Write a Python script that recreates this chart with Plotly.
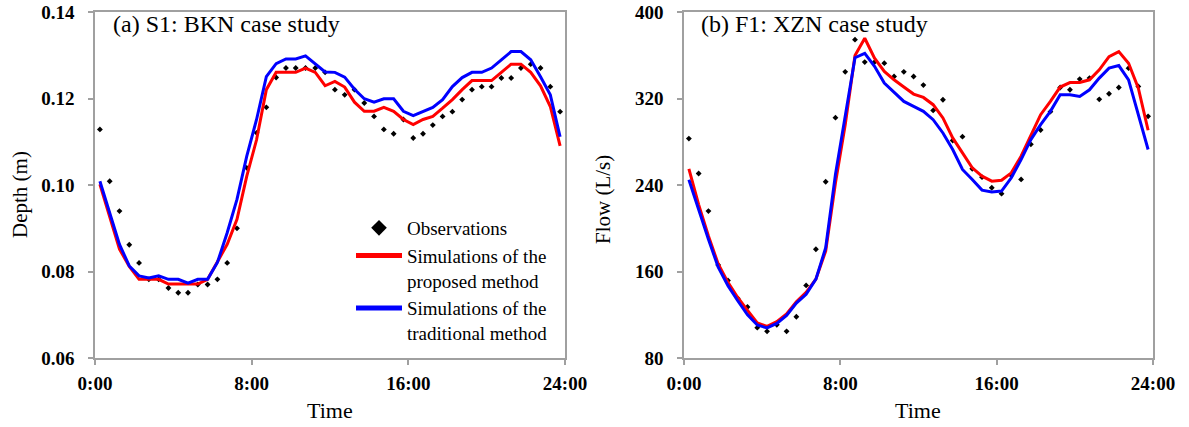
import plotly.graph_objects as go

# ---- data ----
hours = [0.25, 0.75, 1.25, 1.75, 2.25, 2.75, 3.25, 3.75, 4.25, 4.75, 5.25, 5.75,
         6.25, 6.75, 7.25, 7.75, 8.25, 8.75, 9.25, 9.75, 10.25, 10.75, 11.25, 11.75,
         12.25, 12.75, 13.25, 13.75, 14.25, 14.75, 15.25, 15.75, 16.25, 16.75, 17.25, 17.75,
         18.25, 18.75, 19.25, 19.75, 20.25, 20.75, 21.25, 21.75, 22.25, 22.75, 23.25, 23.75]

depth_obs = [0.1129, 0.1009, 0.0940, 0.0862, 0.0820, 0.0782, 0.0782, 0.0762, 0.0751, 0.0751,
             0.0770, 0.0770, 0.0782, 0.0820, 0.0900, 0.1040, 0.1121, 0.1180, 0.1249, 0.1271,
             0.1271, 0.1271, 0.1271, 0.1261, 0.1221, 0.1209, 0.1221, 0.1190, 0.1159, 0.1129,
             0.1119, 0.1152, 0.1109, 0.1119, 0.1139, 0.1159, 0.1170, 0.1198, 0.1221, 0.1228,
             0.1228, 0.1248, 0.1248, 0.1271, 0.1280, 0.1271, 0.1228, 0.1170]
depth_proposed = [0.1002, 0.0925, 0.0852, 0.0812, 0.0782, 0.0782, 0.0782, 0.0771, 0.0771, 0.0771,
                  0.0771, 0.0782, 0.0821, 0.0863, 0.0921, 0.1021, 0.1105, 0.1221, 0.1261, 0.1261,
                  0.1261, 0.1271, 0.1261, 0.1230, 0.1240, 0.1227, 0.1192, 0.1171, 0.1171, 0.1180,
                  0.1171, 0.1152, 0.1140, 0.1152, 0.1159, 0.1178, 0.1198, 0.1221, 0.1242, 0.1242,
                  0.1242, 0.1261, 0.1280, 0.1280, 0.1261, 0.1230, 0.1182, 0.1091]
depth_traditional = [0.1009, 0.0935, 0.0863, 0.0813, 0.0790, 0.0785, 0.0790, 0.0782, 0.0782, 0.0773,
                     0.0782, 0.0782, 0.0821, 0.0890, 0.0967, 0.1067, 0.1152, 0.1251, 0.1281, 0.1292,
                     0.1292, 0.1299, 0.1280, 0.1262, 0.1261, 0.1250, 0.1222, 0.1200, 0.1192, 0.1200,
                     0.1200, 0.1171, 0.1161, 0.1171, 0.1180, 0.1198, 0.1228, 0.1249, 0.1261, 0.1261,
                     0.1271, 0.1290, 0.1309, 0.1309, 0.1290, 0.1251, 0.1209, 0.1112]

flow_obs = [283.1, 250.8, 216.0, 166.2, 151.8, 135.2, 127.2, 108.1, 104.7, 110.8,
            104.7, 118.2, 147.2, 180.7, 243.1, 302.5, 344.9, 374.7, 353.9, 353.9,
            352.9, 340.6, 344.9, 340.6, 332.6, 309.2, 319.1, 281.3, 284.9, 255.1,
            247.4, 237.6, 232.1, 249.0, 245.3, 277.8, 291.1, 308.0, 330.4, 328.3,
            338.2, 339.1, 319.4, 324.6, 330.4, 348.3, 331.4, 303.7]
flow_proposed = [255.0, 222.0, 193.0, 167.0, 150.0, 136.0, 124.0, 112.4, 109.3, 113.6,
                 120.7, 132.0, 140.7, 153.0, 179.0, 242.0, 296.0, 360.0, 376.0, 357.5,
                 345.2, 337.5, 330.8, 324.3, 321.2, 314.5, 302.2, 283.7, 269.9, 256.0,
                 248.3, 243.7, 244.6, 251.4, 266.8, 286.8, 305.2, 317.5, 330.8, 335.0,
                 335.0, 337.5, 346.8, 359.0, 363.6, 352.9, 329.8, 290.8]
flow_traditional = [245.0, 217.0, 190.0, 164.0, 147.0, 133.0, 120.0, 110.5, 107.8, 112.0,
                    119.3, 130.8, 139.0, 153.0, 182.0, 250.0, 302.0, 358.0, 362.0, 350.0,
                    334.5, 325.8, 317.5, 312.9, 308.3, 300.6, 288.3, 273.0, 254.5, 245.3,
                    235.4, 233.6, 234.5, 246.8, 263.7, 282.2, 296.0, 308.3, 323.7, 323.7,
                    322.1, 328.3, 339.1, 348.3, 350.7, 337.5, 305.2, 273.0]

time_ticks = [0, 8, 16, 24]
time_labels = ["0:00", "8:00", "16:00", "24:00"]
depth_ticks = [0.06, 0.08, 0.10, 0.12, 0.14]
flow_ticks = [80, 160, 240, 320, 400]

names = ["Observations", "Simulations of the<br>proposed method", "Simulations of the<br>traditional method"]
titles = ["(a) S1: BKN case study", "(b) F1: XZN case study"]

# ---- figure ----
W, H = 1189, 427


def px(x):
    return x / W


def py(y):
    return 1 - y / H


FONT = "Liberation Serif, Times New Roman, serif"
RED = "#FF0000"
BLUE = "#0000FF"
AX = "#A0A0A0"

fig = go.Figure()

panels = [
    ("x", "y", depth_obs, depth_proposed, depth_traditional, True),
    ("x2", "y2", flow_obs, flow_proposed, flow_traditional, False),
]
for xa, ya, obs, prop, trad, show in panels:
    fig.add_trace(go.Scatter(x=hours, y=obs, mode="markers", name=names[0], xaxis=xa, yaxis=ya,
                             marker=dict(symbol="diamond", size=4.5, color="black"),
                             showlegend=show))
    fig.add_trace(go.Scatter(x=hours, y=prop, mode="lines", name=names[1], xaxis=xa, yaxis=ya,
                             line=dict(color=RED, width=3), showlegend=show))
    fig.add_trace(go.Scatter(x=hours, y=trad, mode="lines", name=names[2], xaxis=xa, yaxis=ya,
                             line=dict(color=BLUE, width=3), showlegend=show))

tickfont = dict(family=FONT, size=19, color="black", weight="bold")
common_x = dict(range=[0, 24], tickvals=time_ticks, ticktext=time_labels, showline=True,
                linecolor=AX, linewidth=1.5, mirror=True, ticks="outside", ticklen=5,
                tickcolor=AX, tickwidth=1.5, showgrid=False, zeroline=False, tickfont=tickfont,
                automargin=False, ticklabelstandoff=2, ticklabeloverflow="allow")
common_y = dict(showline=True, linecolor=AX, linewidth=1.5, mirror=True, ticks="outside",
                ticklen=5, tickcolor=AX, tickwidth=1.5, showgrid=False, zeroline=False,
                tickfont=tickfont, automargin=False, ticklabelstandoff=10,
                ticklabeloverflow="allow")

ydom = [py(358), py(12.3)]
fig.update_layout(
    width=W, height=H,
    margin=dict(l=0, r=0, t=0, b=0, autoexpand=False),
    paper_bgcolor="white", plot_bgcolor="white",
    font=dict(family=FONT, color="black"),
    xaxis=dict(domain=[px(95), px(565)], anchor="y", **common_x),
    xaxis2=dict(domain=[px(684), px(1153)], anchor="y2", **common_x),
    yaxis=dict(domain=ydom, anchor="x", range=[0.06, 0.14], tickvals=depth_ticks,
               tickformat=".2f", **common_y),
    yaxis2=dict(domain=ydom, anchor="x2", range=[80, 400], tickvals=flow_ticks, **common_y),
    legend=dict(x=px(351), y=py(209), xanchor="left", yanchor="top",
                font=dict(family=FONT, size=19, color="black"),
                bgcolor="rgba(0,0,0,0)", valign="top", itemsizing="constant",
                itemwidth=46, tracegroupgap=0),
    showlegend=True,
)

ann = [
    dict(text=titles[0], x=px(111), y=py(24), xanchor="left", yanchor="middle", font_size=24),
    dict(text=titles[1], x=px(699), y=py(24), xanchor="left", yanchor="middle", font_size=24),
    dict(text="Time", x=px(330), y=py(410), xanchor="center", yanchor="middle", font_size=22),
    dict(text="Time", x=px(918), y=py(410), xanchor="center", yanchor="middle", font_size=22),
    dict(text="Depth (m)", x=px(20), y=py(195), xanchor="center", yanchor="middle",
         textangle=-90, font_size=21),
    dict(text="Flow (L/s)", x=px(603), y=py(200), xanchor="center", yanchor="middle",
         textangle=-90, font_size=21),
]
for a in ann:
    fs = a.pop("font_size")
    fig.add_annotation(xref="paper", yref="paper", showarrow=False,
                       font=dict(family=FONT, size=fs, color="black"), **a)

# remove the browser's default 8px page margin so the figure fills the window
fig.write_html("out.html",
               config={"displayModeBar": False},
               post_script="document.body.style.margin='0px';document.body.style.overflow='hidden';")
